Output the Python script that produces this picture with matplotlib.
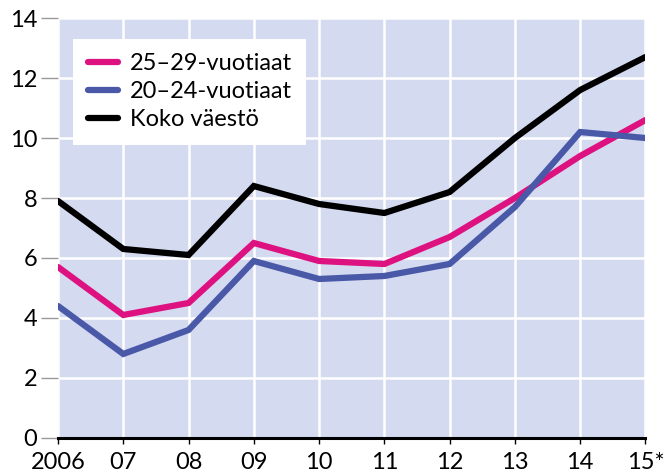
import matplotlib
import matplotlib.pyplot as plt

matplotlib.use("Agg")

plt.rcParams["font.family"] = ["Lato", "DejaVu Sans"]

years = ["2006", "07", "08", "09", "10", "11", "12", "13", "14", "15*"]
age_25_29 = [5.7, 4.1, 4.5, 6.5, 5.9, 5.8, 6.7, 8.0, 9.4, 10.6]
age_20_24 = [4.4, 2.8, 3.6, 5.9, 5.3, 5.4, 5.8, 7.7, 10.2, 10.0]
whole_pop = [7.9, 6.3, 6.1, 8.4, 7.8, 7.5, 8.2, 10.0, 11.6, 12.7]

PINK = "#dd1280"
BLUE = "#4a58a8"
BG = "#d4daf0"

fig = plt.figure(figsize=(6.63, 4.75), dpi=100)
ax = fig.add_axes([0.0875, 0.078, 0.886, 0.884])
ax.set_facecolor(BG)

x = list(range(len(years)))
kw = dict(lw=4.5, solid_capstyle="round", solid_joinstyle="miter")
ax.plot(x, age_25_29, color=PINK, label="25–29-vuotiaat", **kw)
ax.plot(x, age_20_24, color=BLUE, label="20–24-vuotiaat", **kw)
ax.plot(x, whole_pop, color="black", label="Koko väestö", **kw)

ax.set_xlim(0, len(years) - 1)
ax.set_ylim(0, 14)
ax.set_yticks(range(0, 15, 2))
ax.set_xticks(x)
ax.set_xticklabels(years)
ax.grid(True, color="white", lw=1.8)
ax.set_axisbelow(True)

for s in ["top", "right", "left"]:
    ax.spines[s].set_visible(False)
ax.spines["bottom"].set_linewidth(2.2)
ax.spines["bottom"].set_color("black")
ax.spines["bottom"].set_zorder(5)

ax.tick_params(axis="y", length=12, width=1, color="#999999", labelsize=17, pad=3)
ax.tick_params(axis="x", length=4, width=1, color="black", labelsize=17, pad=6)

leg = ax.legend(loc="upper left", bbox_to_anchor=(0.006, 0.978), fontsize=17,
                frameon=True, fancybox=False, framealpha=1, edgecolor="white",
                handlelength=1.3, handletextpad=0.5, labelspacing=0.3,
                borderpad=0.6)
leg.get_frame().set_linewidth(0)

fig.savefig("out.png", dpi=100)
